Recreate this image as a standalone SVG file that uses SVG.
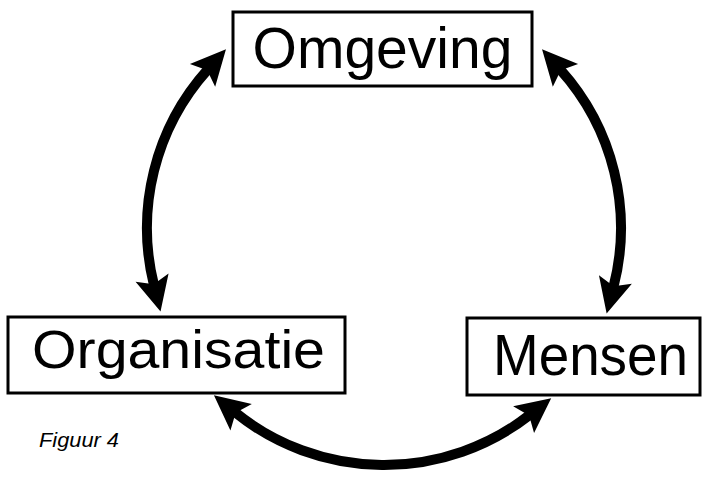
<svg xmlns="http://www.w3.org/2000/svg" width="702" height="478" viewBox="0 0 702 478">
<style>
.box{fill:#fff;stroke:#000;stroke-width:3}
.lbl{font-family:"Liberation Sans",Arial,sans-serif;fill:#000}
.arc{fill:none;stroke:#000;stroke-width:10;marker-start:url(#head);marker-end:url(#head)}
</style>
<defs>
<marker id="head" markerUnits="userSpaceOnUse" orient="auto-start-reverse" refX="0" refY="0" markerWidth="60" markerHeight="60" overflow="visible">
<path d="M27,0 L-8,-17 L-1,0 L-8,17 Z" fill="#000"/>
</marker>
</defs>
<rect width="702" height="478" fill="#fff"/>
<g id="connectors">
<path class="arc" d="M154,285.3 A237,237 0 0 1 207.9,69.4"/>
<path class="arc" d="M560.1,69.4 A237,237 0 0 1 613.4,287.3"/>
<path class="arc" d="M529.9,414.8 A237,237 0 0 1 234.9,412.2"/>
</g>
<g id="omgeving">
<rect class="box" x="233" y="12" width="299" height="74"/>
<text class="lbl" x="382.5" y="68" font-size="57" text-anchor="middle">Omgeving</text>
</g>
<g id="organisatie">
<rect class="box" x="8" y="317" width="337" height="76"/>
<text class="lbl" x="32" y="368" font-size="54" textLength="293" lengthAdjust="spacingAndGlyphs">Organisatie</text>
</g>
<g id="mensen">
<rect class="box" x="467" y="318" width="233" height="77"/>
<text class="lbl" x="493" y="375" font-size="57" textLength="195" lengthAdjust="spacingAndGlyphs">Mensen</text>
</g>
<text class="lbl" x="39" y="447" font-size="20" font-style="italic" textLength="80" lengthAdjust="spacingAndGlyphs">Figuur 4</text>
</svg>
